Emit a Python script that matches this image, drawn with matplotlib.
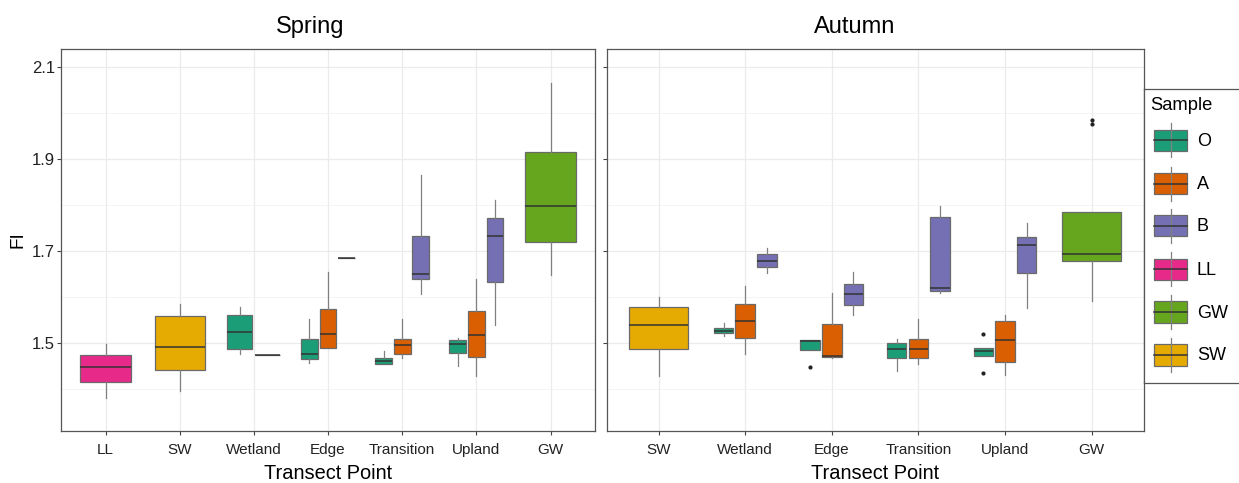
import numpy as np
import matplotlib.pyplot as plt
from matplotlib.patches import Rectangle

plt.rcParams['font.family'] = ['Liberation Sans', 'DejaVu Sans']

# sample colours (Dark2)
sample_order = ["O", "A", "B", "LL", "GW", "SW"]
sample_colors = {"O": "#1B9E77", "A": "#D95F02", "B": "#7570B3",
                 "LL": "#E7298A", "GW": "#66A61E", "SW": "#E6AB02"}

# Spring boxes: lower whisker, q1, median, q3, upper whisker
spring_points = ["LL", "SW", "Wetland", "Edge", "Transition", "Upland", "GW"]
spring_point = ["LL", "SW", "Wetland", "Wetland", "Edge", "Edge", "Edge",
                "Transition", "Transition", "Transition",
                "Upland", "Upland", "Upland", "GW"]
spring_sample = ["LL", "SW", "O", "A", "O", "A", "B",
                 "O", "A", "B", "O", "A", "B", "GW"]
spring_lo = [1.380, 1.396, 1.475, 1.474, 1.456, 1.489, 1.685,
             1.454, 1.467, 1.607, 1.450, 1.428, 1.538, 1.648]
spring_q1 = [1.415, 1.442, 1.486, 1.474, 1.464, 1.489, 1.685,
             1.454, 1.475, 1.639, 1.478, 1.470, 1.633, 1.720]
spring_med = [1.447, 1.492, 1.523, 1.474, 1.477, 1.520, 1.685,
              1.460, 1.495, 1.651, 1.497, 1.517, 1.733, 1.799]
spring_q3 = [1.474, 1.558, 1.561, 1.474, 1.508, 1.573, 1.685,
             1.467, 1.508, 1.732, 1.507, 1.570, 1.771, 1.915]
spring_hi = [1.498, 1.584, 1.579, 1.474, 1.551, 1.654, 1.685,
             1.482, 1.551, 1.865, 1.510, 1.640, 1.811, 2.065]
spring_out = [[] for _ in spring_point]

# Autumn boxes
autumn_points = ["SW", "Wetland", "Edge", "Transition", "Upland", "GW"]
autumn_point = ["SW", "Wetland", "Wetland", "Wetland", "Edge", "Edge", "Edge",
                "Transition", "Transition", "Transition",
                "Upland", "Upland", "Upland", "GW"]
autumn_sample = ["SW", "O", "A", "B", "O", "A", "B",
                 "O", "A", "B", "O", "A", "B", "GW"]
autumn_lo = [1.429, 1.515, 1.475, 1.652, 1.485, 1.467, 1.560,
             1.440, 1.454, 1.609, 1.472, 1.430, 1.577, 1.591]
autumn_q1 = [1.487, 1.521, 1.510, 1.665, 1.485, 1.469, 1.582,
             1.467, 1.467, 1.614, 1.472, 1.459, 1.653, 1.679]
autumn_med = [1.539, 1.527, 1.548, 1.679, 1.504, 1.472, 1.606,
              1.487, 1.487, 1.620, 1.483, 1.506, 1.714, 1.693]
autumn_q3 = [1.578, 1.533, 1.585, 1.693, 1.506, 1.542, 1.629,
             1.499, 1.509, 1.774, 1.488, 1.547, 1.730, 1.786]
autumn_hi = [1.599, 1.543, 1.623, 1.707, 1.506, 1.609, 1.654,
             1.508, 1.552, 1.799, 1.488, 1.560, 1.762, 1.786]
autumn_out = [[], [], [], [], [1.447], [], [],
              [], [], [], [1.520, 1.435], [], [], [1.985, 1.976]]

W, H = 1239, 483
fig = plt.figure(figsize=(W / 100, H / 100), dpi=100)


def draw_panel(ax, points, point, sample, lo, q1, med, q3, hi, out, title, title_x):
    dodge = 0.75
    for p_idx, p in enumerate(points):
        idx = [i for i in range(len(point)) if point[i] == p]
        n = len(idx)
        for k, i in enumerate(idx):
            pos = p_idx + 1 - dodge / 2 + (k + 0.5) * dodge / n
            stats = [dict(whislo=lo[i], q1=q1[i], med=med[i], q3=q3[i],
                          whishi=hi[i], fliers=out[i])]
            ax.bxp(stats, positions=[pos], widths=dodge / n * 0.9,
                   patch_artist=True, showcaps=False, manage_ticks=False,
                   boxprops=dict(facecolor=sample_colors[sample[i]],
                                 edgecolor="#6a6a6a", linewidth=0.9),
                   medianprops=dict(color="#333333", linewidth=1.1),
                   whiskerprops=dict(color="#808080", linewidth=0.9),
                   flierprops=dict(marker="o", markersize=2.0,
                                   markerfacecolor="#222222",
                                   markeredgecolor="#222222"))
    ax.set_xlim(0.4, len(points) + 0.6)
    ax.set_ylim(1.309, 2.139)
    ax.set_xticks(range(1, len(points) + 1))
    ax.set_xticklabels(points, fontsize=11)
    ax.set_yticks([1.5, 1.7, 1.9, 2.1])
    ax.set_yticks([1.4, 1.6, 1.8, 2.0], minor=True)
    ax.grid(True, which="major", color="#ebebeb", linewidth=0.9)
    ax.grid(True, which="minor", axis="y", color="#f2f2f2", linewidth=0.6)
    ax.set_axisbelow(True)
    ax.tick_params(axis="x", which="major", length=3, width=0.8,
                   color="#444444", labelsize=11, pad=6, labelcolor="#222222")
    ax.tick_params(axis="y", which="major", length=3, width=0.8,
                   color="#444444", labelsize=12, pad=1.2, labelcolor="#222222")
    ax.tick_params(axis="y", which="minor", length=0)
    for s in ax.spines.values():
        s.set_color("#555555")
        s.set_linewidth(0.9)
    ax.set_title(title, fontsize=17, pad=11.5, x=title_x)
    ax.set_xlabel("Transect Point", fontsize=14.4, labelpad=5)


ax1 = fig.add_axes([61 / W, 1 - 430.7 / H, (595 - 61) / W, (430.7 - 49.3) / H])
draw_panel(ax1, spring_points, spring_point, spring_sample, spring_lo,
           spring_q1, spring_med, spring_q3, spring_hi, spring_out,
           "Spring", 0.466)
ax1.set_yticklabels(["1.5", "1.7", "1.9", "2.1"])
ax1.set_ylabel("FI", fontsize=13.6, labelpad=4)

ax2 = fig.add_axes([606.7 / W, 1 - 430.7 / H, (1143.5 - 606.7) / W, (430.7 - 49.3) / H])
draw_panel(ax2, autumn_points, autumn_point, autumn_sample, autumn_lo,
           autumn_q1, autumn_med, autumn_q3, autumn_hi, autumn_out,
           "Autumn", 0.462)
ax2.tick_params(axis="y", labelleft=False)

# legend box drawn in pixel units, running off the right edge
lx0, ly0, ly1, lx1 = 1143.7, 89, 383.3, 1300
leg = fig.add_axes([lx0 / W, 1 - ly1 / H, (lx1 - lx0) / W, (ly1 - ly0) / H])
leg.set_xlim(lx0, lx1)
leg.set_ylim(ly1, ly0)
leg.set_xticks([])
leg.set_yticks([])
for s in leg.spines.values():
    s.set_color("#555555")
    s.set_linewidth(0.9)
leg.text(1150.5, 105, "Sample", fontsize=13.2, va="center", ha="left")
key_y = [140.3, 183.7, 225.7, 269.3, 312, 354.7]
for name, cy in zip(sample_order, key_y):
    leg.plot([1170.7, 1170.7], [cy - 17, cy + 17], color="#808080", lw=0.9)
    leg.add_patch(Rectangle((1154.3, cy - 10.8), 32.7, 21.6,
                            facecolor=sample_colors[name], edgecolor="#6a6a6a",
                            linewidth=0.9))
    leg.plot([1154.3, 1187], [cy, cy], color="#333333", lw=1.1)
    leg.text(1197, cy + 1, name, fontsize=13, va="center", ha="left")

fig.savefig("out.png", dpi=100)
